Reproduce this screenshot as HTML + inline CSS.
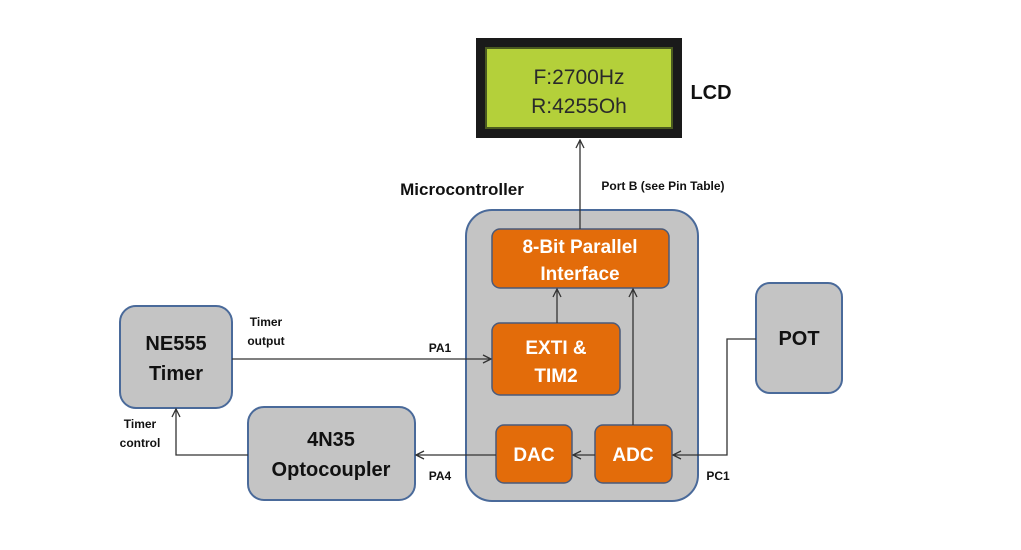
<!DOCTYPE html>
<html><head><style>body{margin:0;background:#fff}svg{display:block}text{font-family:"Liberation Sans",sans-serif;font-weight:bold}</style></head><body>
<svg width="1021" height="550" viewBox="0 0 1021 550">
<defs><marker id="a" markerWidth="10" markerHeight="10" refX="9" refY="5" orient="auto" markerUnits="userSpaceOnUse"><path d="M1,1 L9,5 L1,9" fill="none" stroke="#333" stroke-width="1.3"/></marker></defs>
<!-- LCD -->
<rect x="476" y="38" width="206" height="100" fill="#1a1a1a"/>
<rect x="486" y="48" width="186" height="80" fill="#b4d03a" stroke="#4a5a20" stroke-width="2"/>
<text x="579" y="84" font-size="21" style="font-weight:normal" fill="#2a2a2a" text-anchor="middle">F:2700Hz</text>
<text x="579" y="113" font-size="21" style="font-weight:normal" fill="#2a2a2a" text-anchor="middle">R:4255Oh</text>
<text x="711" y="99" font-size="20" fill="#111" text-anchor="middle">LCD</text>
<text x="462" y="195" font-size="17" fill="#111" text-anchor="middle">Microcontroller</text>
<text x="663" y="190" font-size="12" fill="#111" text-anchor="middle">Port B (see Pin Table)</text>
<!-- micro -->
<rect x="466" y="210" width="232" height="291" rx="26" fill="#c4c4c4" stroke="#4a6a9a" stroke-width="2"/>
<g fill="#e36c0a" stroke="#4a5a7a" stroke-width="1.5">
<rect x="492" y="229" width="177" height="59" rx="8"/>
<rect x="492" y="323" width="128" height="72" rx="8"/>
<rect x="496" y="425" width="76" height="58" rx="8"/>
<rect x="595" y="425" width="77" height="58" rx="8"/>
</g>
<g fill="#fff" font-size="19" text-anchor="middle">
<text x="580" y="253">8-Bit Parallel</text><text x="580" y="280">Interface</text>
<text x="556" y="354">EXTI &amp;</text><text x="556" y="382">TIM2</text>
<text x="534" y="461">DAC</text><text x="633" y="461">ADC</text>
</g>
<!-- gray boxes -->
<g fill="#c4c4c4" stroke="#4a6a9a" stroke-width="2">
<rect x="120" y="306" width="112" height="102" rx="16"/>
<rect x="248" y="407" width="167" height="93" rx="16"/>
<rect x="756" y="283" width="86" height="110" rx="14"/>
</g>
<g fill="#111" font-size="20" text-anchor="middle">
<text x="176" y="350">NE555</text><text x="176" y="380">Timer</text>
<text x="331" y="446">4N35</text><text x="331" y="476">Optocoupler</text>
<text x="799" y="345">POT</text>
</g>
<g fill="#111" font-size="12" text-anchor="middle">
<text x="266" y="326">Timer</text><text x="266" y="345">output</text>
<text x="440" y="352">PA1</text>
<text x="140" y="428">Timer</text><text x="140" y="447">control</text>
<text x="440" y="480">PA4</text>
<text x="718" y="480">PC1</text>
</g>
<!-- connectors -->
<g stroke="#333" stroke-width="1.3" fill="none" marker-end="url(#a)">
<path d="M580 229 V140"/>
<path d="M557 323 V289"/>
<path d="M633 425 V289"/>
<path d="M232 359 H491"/>
<path d="M595 455 H573"/>
<path d="M496 455 H416"/>
<path d="M248 455 H176 V409"/>
<path d="M756 339 H727 V455 H673"/>
</g>
</svg>
</body></html>
